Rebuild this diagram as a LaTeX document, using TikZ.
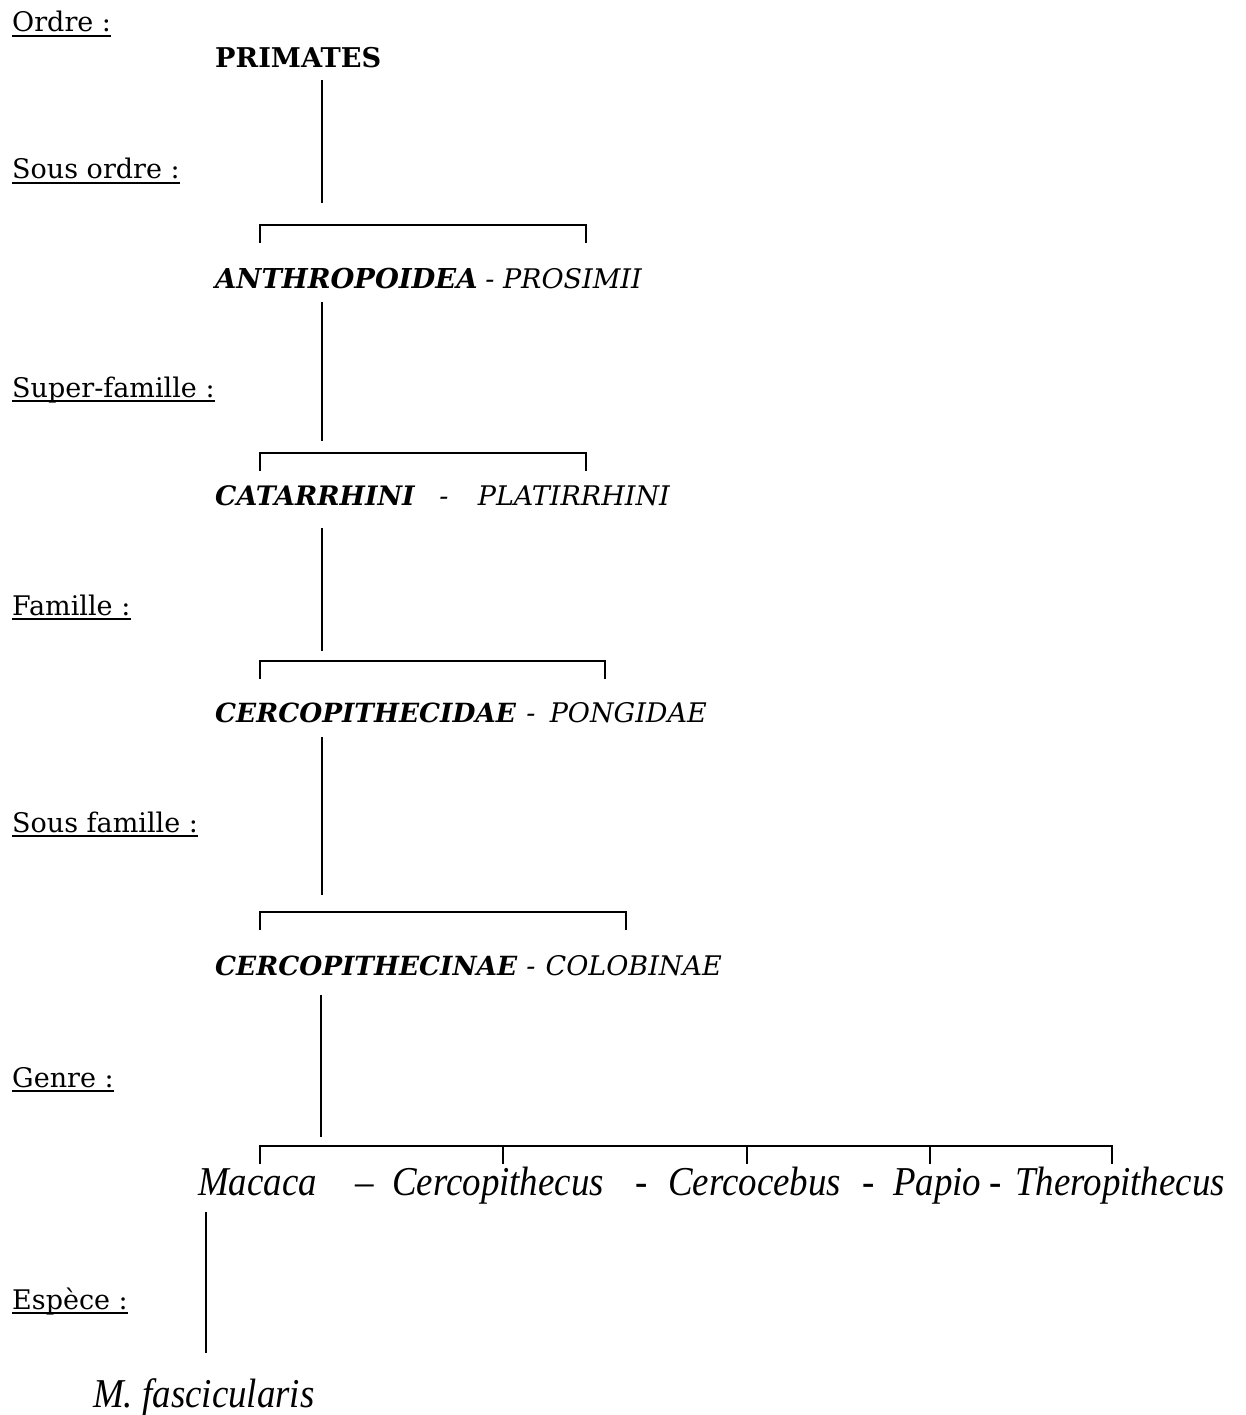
\documentclass[tikz,border=0pt]{standalone}
\usepackage{fontspec}
\setmainfont{DejaVu Serif}
\newfontfamily\tnr[FakeStretch=0.9]{Liberation Serif}
\begin{document}
\begin{tikzpicture}[x=1pt,y=-1pt,
  every node/.style={inner sep=0pt, anchor=base west},
  rank/.style={font=\fontsize{27}{32}\selectfont},
  taxon/.style={font=\fontsize{27}{31}\selectfont\itshape},
  taxonb/.style={font=\fontsize{#1}{31}\selectfont\bfseries\itshape},
  taxonb/.default=27.4,
  genus/.style={font=\tnr\fontsize{41}{48}\selectfont\itshape},
  ln/.style={line width=2pt},
  ul/.style={line width=1.6pt}]
\useasboundingbox[fill=white] (0,0) rectangle (1245,1415);

% rank labels
\node[rank] (rOrdre) at (12,32) {Ordre :};
\node[rank] (rSousordre) at (12,179) {Sous ordre :};
\node[rank] (rSuper) at (12,397) {Super-famille :};
\node[rank] (rFamille) at (12,615) {Famille :};
\node[rank] (rSousfam) at (12,832) {Sous famille :};
\node[rank] (rGenre) at (12,1087) {Genre :};
\node[rank] (rEspece) at (12,1309) {Espèce :};
\foreach \n in {rOrdre,rSousordre,rSuper,rFamille,rSousfam,rGenre,rEspece}
  \draw[ul] ([yshift=-4pt]\n.base west) -- ([yshift=-4pt]\n.base east);

% taxa
\node[font=\fontsize{27.2}{31}\selectfont\bfseries] (prim) at (215,68) {PRIMATES};

\node[taxonb] (anth) at (215,288) {ANTHROPOIDEA};
\node[taxon, anchor=base] (d1) at (490,288) {-};
\node[taxon, anchor=base east] (pros) at (642,288) {PROSIMII};

\node[taxonb=26.8] (cata) at (215,505) {CATARRHINI};
\node[taxon, anchor=base] (d2) at (444,505) {-};
\node[taxon, anchor=base east] (plat) at (670,505) {PLATIRRHINI};

\node[taxonb=26.4] (cidae) at (215,722) {CERCOPITHECIDAE};
\node[taxon, anchor=base] (d3) at (531,722) {-};
\node[taxon, anchor=base east] (pong) at (707,722) {PONGIDAE};

\node[taxonb=26.4] (cinae) at (215,975) {CERCOPITHECINAE};
\node[taxon, anchor=base] (d4) at (531,975) {-};
\node[taxon, anchor=base east] (colo) at (722,975) {COLOBINAE};

% genera
\node[genus] (mac) at (198,1195) {Macaca};
\node[genus, anchor=base] (g1) at (365,1195) {–};
\node[genus] (cerp) at (392,1195) {Cercopithecus};
\node[genus, anchor=base] (g2) at (642,1195) {-};
\node[genus] (cerc) at (668,1195) {Cercocebus};
\node[genus, anchor=base] (g3) at (869,1195) {-};
\node[genus] (pap) at (893,1195) {Papio};
\node[genus, anchor=base] (g4) at (996,1195) {-};
\node[genus] (ther) at (1015,1195) {Theropithecus};

\node[genus] (mfas) at (93,1407) {M. fascicularis};

% vertical stems
\coordinate (v1a) at (322,80);   \coordinate (v1b) at (322,203);
\coordinate (v2a) at (322,302);  \coordinate (v2b) at (322,441);
\coordinate (v3a) at (322,528);  \coordinate (v3b) at (322,651);
\coordinate (v4a) at (322,737);  \coordinate (v4b) at (322,895);
\coordinate (v5a) at (321,995);  \coordinate (v5b) at (321,1137);
\coordinate (v6a) at (206,1212); \coordinate (v6b) at (206,1353);
\foreach \i in {1,...,6} \draw[ln] (v\i a) -- (v\i b);

% brackets
\coordinate (k1l) at (260,243); \coordinate (k1r) at (586,243);
\coordinate (k2l) at (260,471); \coordinate (k2r) at (586,471);
\coordinate (k3l) at (260,679); \coordinate (k3r) at (605,679);
\coordinate (k4l) at (260,930); \coordinate (k4r) at (626,930);
\coordinate (k5l) at (260,1164); \coordinate (k5r) at (1112,1164);
\foreach \i in {1,...,5} \draw[ln] (k\i l) -- ++(0,-18) -| (k\i r);
\coordinate (t2) at (503,1164);
\coordinate (t3) at (747,1164);
\coordinate (t4) at (930,1164);
\foreach \t in {t2,t3,t4} \draw[ln] (\t) -- ++(0,-19);
\end{tikzpicture}
\end{document}
